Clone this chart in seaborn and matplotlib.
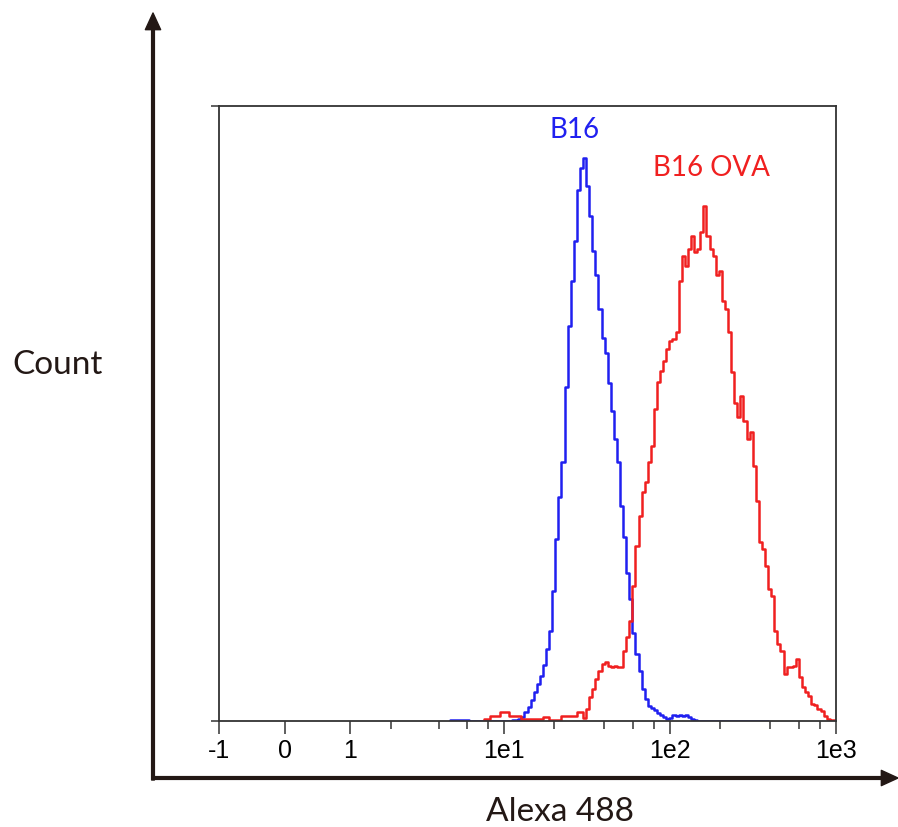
import numpy as np
import pandas as pd
import matplotlib
matplotlib.use('Agg')
import matplotlib.pyplot as plt
from matplotlib.patches import FancyArrowPatch
import seaborn as sns

# Alexa 488 histogram, 200 bins on an arcsinh (biexponential-like) scale from -1 to 1e3
C = 0.962
n_bins = 200
x_min, x_max = -1, 1000

# B16: counts for bins 75..177
blue_start = 75
blue_counts = [1, 1, 1, 1, 1, 1, 0, 0, 0, 0, 0, 0, 0, 0, 0, 0, 0, 0, 0, 0,
               1, 1, 2, 4, 9, 14, 21, 29, 37, 45, 56, 72, 90, 130, 182, 224,
               259, 334, 395, 440, 480, 531, 553, 563, 535, 505, 470, 446, 412,
               383, 368, 338, 310, 282, 259, 215, 184, 148, 122, 88, 67, 50, 32,
               22, 15, 13, 11, 8, 6, 4, 2, 3, 6, 5, 6, 5, 6, 4, 2, 1,
               0, 0, 0, 0, 0, 0, 0, 0, 0, 0, 0, 0, 0, 0, 0, 0, 0, 0, 0, 0, 0, 0, 0]

# B16 OVA: counts for bins 86..199
red_start = 86
red_counts = [2, 2, 5, 5, 5, 9, 9, 9, 5, 5, 5, 5, 2, 2, 2, 2, 2, 2, 2, 4, 4,
              1, 1, 1, 1, 5, 5, 5, 5, 5, 9, 9, 3, 12, 24, 32, 42, 50, 57, 59,
              55, 54, 55, 54, 54, 70, 84, 100, 135, 175, 205, 229, 239, 259,
              275, 312, 339, 350, 360, 372, 380, 382, 389, 440, 465, 455, 472,
              485, 469, 472, 489, 515, 485, 472, 465, 446, 450, 420, 412, 389,
              349, 318, 304, 325, 300, 282, 289, 255, 220, 179, 172, 155, 132,
              125, 90, 77, 70, 47, 54, 54, 55, 62, 44, 34, 29, 25, 17, 16, 12,
              10, 5, 2, 1, 1]

series = [('B16', blue_start, blue_counts, '#2020F0'),
          ('B16 OVA', red_start, red_counts, '#F02020')]

major_ticks = [-1, 0, 1, 10, 100, 1000]
major_labels = ['-1', '0', '1', '1e1', '1e2', '1e3']
minor_ticks = [2, 4, 6, 8, 20, 40, 60, 80, 200, 400, 600, 800]

ink = '#231815'

sns.set_style('white')
plt.rcParams['font.family'] = ['Liberation Sans', 'DejaVu Sans']

fig = plt.figure(figsize=(8.98, 8.28), dpi=100)
ax = fig.add_axes([219 / 898, 106 / 828, 617 / 898, 615 / 828])


def fwd(x):
    return np.arcsinh(np.asarray(x, dtype=float) / C)


def inv(t):
    return C * np.sinh(np.asarray(t, dtype=float))


ax.set_xscale('function', functions=(fwd, inv))

edges = inv(np.linspace(fwd(x_min), fwd(x_max), n_bins + 1))

for name, start, counts, color in series:
    sub = edges[start:start + len(counts) + 1]
    # step outline: rise at first edge, hold each count, drop at last edge
    xs = np.concatenate([[sub[0]], sub, [sub[-1]]])
    ys = np.concatenate([[0], counts, [counts[-1], 0]])
    df = pd.DataFrame({'intensity': xs, 'count': ys})
    sns.lineplot(data=df, x='intensity', y='count', drawstyle='steps-post',
                 estimator=None, sort=False, color=color, linewidth=1.8, ax=ax)

ax.set_xlim(x_min, x_max)
ax.set_ylim(0, 615)
ax.set_xlabel('')
ax.set_ylabel('')

ax.set_xticks(major_ticks)
ax.set_xticklabels(major_labels)
ax.set_xticks(minor_ticks, minor=True)
ax.tick_params(axis='x', which='major', direction='out', length=9.5, width=1.1,
               color='#333333', labelsize=18, pad=3, labelcolor='black', bottom=True)
ax.tick_params(axis='x', which='minor', direction='out', length=6, width=1.1,
               color='#333333', bottom=True)
ax.set_yticks([0, 615])
ax.set_yticklabels([])
ax.tick_params(axis='y', direction='out', length=6, width=1.1, color='#333333', left=True)

for sp in ax.spines.values():
    sp.set_visible(True)
    sp.set_color('#333333')
    sp.set_linewidth(1.3)

fig.text(575 / 898, 1 - 130 / 828, 'B16', color='#2020F0', fontsize=20,
         family=['Lato', 'DejaVu Sans'], ha='center', va='center')
fig.text(711 / 898, 1 - 168 / 828, 'B16 OVA', color='#F02020', fontsize=20,
         family=['Lato', 'DejaVu Sans'], ha='center', va='center')

fig.text(58 / 898, 1 - 365 / 828, 'Count', color=ink, fontsize=24,
         family=['Lato', 'DejaVu Sans'], ha='center', va='center')
fig.text(560 / 898, 1 - 812 / 828, 'Alexa 488', color=ink, fontsize=24,
         family=['Lato', 'DejaVu Sans'], ha='center', va='center')

# outer arrow axes
style = 'Simple,tail_width=2.0,head_width=11,head_length=12'
fig.add_artist(FancyArrowPatch((153 / 898, 1 - 781 / 828), (153 / 898, 1 - 14 / 828),
                               transform=fig.transFigure, arrowstyle=style,
                               color=ink, mutation_scale=1, shrinkA=0, shrinkB=0))
fig.add_artist(FancyArrowPatch((152 / 898, 1 - 779 / 828), (898 / 898, 1 - 779 / 828),
                               transform=fig.transFigure, arrowstyle=style,
                               color=ink, mutation_scale=1, shrinkA=0, shrinkB=0))

fig.savefig('out.png', dpi=100)
